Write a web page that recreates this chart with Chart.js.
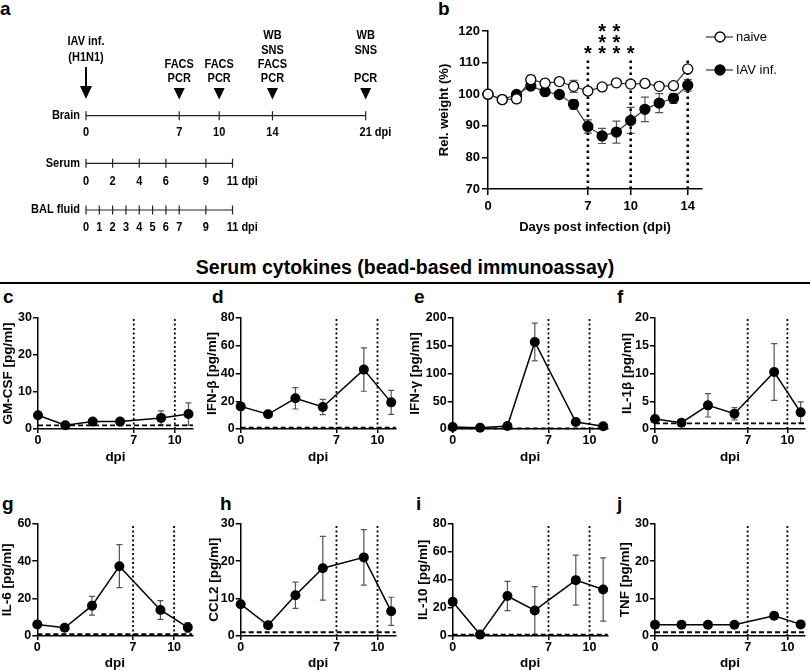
<!DOCTYPE html>
<html>
<head>
<meta charset="utf-8">
<script src="https://cdn.jsdelivr.net/npm/chart.js@4.4.1/dist/chart.umd.min.js"></script>
<style>
html, body { margin: 0; padding: 0; background: #fff; }
#fig { position: relative; width: 810px; height: 671px; overflow: hidden; font-family: "Liberation Sans", Arial, sans-serif; color: #000; }
#fig canvas { position: absolute; }
.lbl { position: absolute; font-weight: bold; font-size: 19px; line-height: 19px; }
#title { position: absolute; left: 0; width: 810px; top: 258px; text-align: center; font-weight: bold; font-size: 19.5px; line-height: 19.5px; }
#rule { position: absolute; left: 0; top: 282px; width: 810px; height: 2px; background: #000; }
</style>
</head>
<body>
<div id="fig">
  <div class="lbl" style="left:0px;top:-1px">a</div>
  <div class="lbl" style="left:438px;top:-1px">b</div>
  <div id="title">Serum cytokines (bead-based immunoassay)</div>
  <div id="rule"></div>
  <div class="lbl" style="left:3px;top:287px">c</div>
  <div class="lbl" style="left:212px;top:287px">d</div>
  <div class="lbl" style="left:414px;top:287px">e</div>
  <div class="lbl" style="left:617px;top:287px">f</div>
  <div class="lbl" style="left:2px;top:494px">g</div>
  <div class="lbl" style="left:220px;top:494px">h</div>
  <div class="lbl" style="left:416px;top:494px">i</div>
  <div class="lbl" style="left:617px;top:494px">j</div>
</div>
<script>
// panel a: sampling schedule (dpi)
const brainDays = [0, 7, 10, 14, 21];
const brainAssays = [
  [],
  ['', '', 'FACS', 'PCR'],
  ['', '', 'FACS', 'PCR'],
  ['WB', 'SNS', 'FACS', 'PCR'],
  ['WB', 'SNS', '', 'PCR']
];
const infectionLabel = ['IAV inf.', '(H1N1)'];
const serumDays = [0, 2, 4, 6, 9, 11];
const balDays = [0, 1, 2, 3, 4, 5, 6, 7, 9, 11];

// panel b: relative body weight
const weightDays = [0, 1, 2, 3, 4, 5, 6, 7, 8, 9, 10, 11, 12, 13, 14];
const naiveWeight = [100, 98.3, 98.5, 104.6, 103.5, 104, 102.5, 101, 102.3, 103.6, 103.2, 103.4, 102.5, 102.7, 108];
const naiveSem = [0, 0.4, 0.5, 1.4, 1.3, 1.0, 1.9, 0.8, 0.5, 0.5, 0.6, 0.5, 0.5, 0.6, 1.0];
const iavWeight = [100, 98.3, 99.9, 102.6, 100.8, 99.9, 96.8, 89.8, 86.8, 88, 91.7, 95.2, 97.2, 98.7, 102.8];
const iavSem = [0, 0.4, 0.6, 0.8, 0.6, 0.5, 1.5, 2.1, 2.4, 3.5, 4.1, 3.9, 3.0, 1.6, 1.8];
const weightTicksX = [0, 7, 10, 14];
const markDaysB = [7, 10, 14];
const starDays = [7, 8, 9, 10];
const starCounts = [1, 3, 3, 1];

// panels c-j: serum cytokines [pg/ml], mean and SEM
const cytoDays = [0, 2, 4, 6, 9, 11];
const cytoTicksX = [0, 7, 10];
const markDays = [7, 10];
const detLimit = 1;
const gmcsf = [3.7, 1.0, 2.0, 2.0, 3.0, 4.05];
const gmcsfSem = [0, 0, 0, 0, 1.9, 3.0];
const ifnb = [16.3, 10.6, 22.1, 15.9, 42.8, 19.2];
const ifnbSem = [0, 0, 7.7, 5.5, 15.6, 8.7];
const ifng = [3.6, 2.4, 5.4, 156.8, 12.6, 4.8];
const ifngSem = [0, 0, 0, 34, 0, 0];
const il1b = [1.8, 1.14, 4.26, 2.76, 10.27, 3.0];
const il1bSem = [0, 0, 2.1, 1.1, 5.1, 1.9];
const il6 = [6.2, 4.4, 16.2, 37.3, 13.9, 4.6];
const il6Sem = [0, 0, 5, 11.5, 5, 2.5];
const ccl2 = [8.5, 2.86, 10.9, 18.1, 21.0, 6.6];
const ccl2Sem = [0, 0, 3.5, 8.5, 7.4, 3.75];
const il10 = [24.4, 1.0, 28.5, 18.2, 39.8, 33.1];
const il10Sem = [0, 0, 10.4, 17, 17.8, 22.5];
const tnf = [3.0, 3.0, 3.0, 3.0, 5.4, 3.1];
const tnfSem = [0, 0, 0, 0, 0.8, 0];

const FONT = '"Liberation Sans", Arial, sans-serif';
Chart.defaults.font.family = FONT;
Chart.defaults.color = '#000';

const fig = document.getElementById('fig');
function mkCanvas(left, top, w, h) {
  const c = document.createElement('canvas');
  c.width = w; c.height = h;
  c.style.left = left + 'px'; c.style.top = top + 'px';
  c.style.width = w + 'px'; c.style.height = h + 'px';
  fig.appendChild(c);
  return c;
}

// error bars drawn under the lines and points
const errorBars = {
  id: 'errorBars',
  beforeDatasetsDraw(chart) {
    const {ctx, scales: {x, y}} = chart;
    ctx.save();
    chart.data.datasets.forEach(ds => {
      if (!ds.errors) return;
      ctx.strokeStyle = '#555';
      ctx.lineWidth = 1.2;
      const w = ds.capHalf || 3;
      ds.data.forEach((p, i) => {
        const e = ds.errors[i];
        if (!e) return;
        const px = x.getPixelForValue(p.x);
        const t = y.getPixelForValue(p.y + e);
        const b = y.getPixelForValue(p.y - e);
        ctx.beginPath();
        ctx.moveTo(px, t); ctx.lineTo(px, b);
        ctx.moveTo(px - w, t); ctx.lineTo(px + w, t);
        ctx.moveTo(px - w, b); ctx.lineTo(px + w, b);
        ctx.stroke();
      });
    });
    ctx.restore();
  }
};

function axis(o) {
  return {
    type: 'linear', min: o.min, max: o.max,
    grid: { drawOnChartArea: false, tickLength: o.tl, color: '#000', lineWidth: 1.5 },
    border: { color: '#000', width: 1.5 },
    ticks: { color: '#000', font: { size: o.fs, weight: 'bold' }, padding: o.pad, stepSize: o.step,
             autoSkip: false, maxRotation: 0, callback: v => String(v) },
    title: { display: true, text: o.title, color: '#000', font: { size: o.tfs, weight: 'bold' },
             padding: { top: o.tpt || 0, bottom: o.tpb || 0 } },
    afterBuildTicks: o.list ? (s => { s.ticks = o.list.map(v => ({ value: v })); }) : undefined,
    afterFit: s => { if (o.width) s.width = o.width; if (o.height) s.height = o.height; }
  };
}

// ---------- panel a ----------
const timeline = {
  id: 'timeline',
  afterDraw(chart) {
    const ctx = chart.ctx;
    const xs = chart.scales.x;
    const px = d => xs.getPixelForValue(d);
    const txt = (s, x, y, align) => {
      ctx.save();
      ctx.translate(x, y);
      ctx.scale(0.88, 1);
      ctx.textAlign = align;
      ctx.textBaseline = 'middle';
      ctx.fillText(s, 0, 0);
      ctx.restore();
    };
    ctx.save();
    ctx.fillStyle = '#000';
    ctx.strokeStyle = '#222';
    ctx.font = 'bold 12.5px ' + FONT;

    const rows = [
      { name: 'Brain', days: brainDays, y: 115.7, ly: 132.5 },
      { name: 'Serum', days: serumDays, y: 163.3, ly: 182 },
      { name: 'BAL fluid', days: balDays, y: 210, ly: 228 }
    ];
    rows.forEach(r => {
      ctx.lineWidth = 1.2;
      ctx.beginPath();
      ctx.moveTo(px(r.days[0]), r.y);
      ctx.lineTo(px(r.days[r.days.length - 1]), r.y);
      r.days.forEach(d => { ctx.moveTo(px(d), r.y - 4.5); ctx.lineTo(px(d), r.y + 4.5); });
      ctx.stroke();
      txt(r.name, px(0) - 6, r.y, 'right');
      r.days.forEach((d, i) => {
        if (i < r.days.length - 1) {
          txt(String(d), px(d), r.ly, 'center');
        } else {
          const w = ctx.measureText(String(d)).width * 0.88;
          txt(d + ' dpi', px(d) - w / 2, r.ly, 'left');
        }
      });
    });

    // infection arrow at day 0
    const x0 = px(brainDays[0]);
    txt(infectionLabel[0], x0, 42, 'center');
    txt(infectionLabel[1], x0, 58, 'center');
    ctx.fillRect(x0 - 1, 67, 2, 21);
    ctx.beginPath();
    ctx.moveTo(x0 - 6, 86); ctx.lineTo(x0 + 6, 86); ctx.lineTo(x0, 99); ctx.closePath();
    ctx.fill();

    // brain sampling points
    const assayRows = [36, 50.3, 64.6, 79];
    brainDays.forEach((d, i) => {
      if (i === 0) return;
      const x = px(d);
      brainAssays[i].forEach((s, k) => { if (s) txt(s, x, assayRows[k], 'center'); });
      ctx.beginPath();
      ctx.moveTo(x - 5.5, 88); ctx.lineTo(x + 5.5, 88); ctx.lineTo(x, 99.5); ctx.closePath();
      ctx.fill();
    });
    ctx.restore();
  }
};

new Chart(mkCanvas(0, 0, 400, 245), {
  type: 'scatter',
  data: { datasets: [] },
  options: {
    responsive: false, animation: false, devicePixelRatio: 1,
    layout: { padding: { left: 86, right: 34.3, top: 0, bottom: 0 } },
    plugins: { legend: { display: false }, tooltip: { enabled: false } },
    scales: {
      x: { type: 'linear', min: 0, max: 21, display: false },
      y: { type: 'linear', min: 0, max: 1, display: false }
    }
  },
  plugins: [timeline]
});

// ---------- panel b ----------
const stars = {
  id: 'stars',
  afterDatasetsDraw(chart) {
    const {ctx, chartArea, scales: {x}} = chart;
    ctx.save();
    ctx.fillStyle = '#000';
    ctx.font = 'bold 20px ' + FONT;
    ctx.textAlign = 'center';
    ctx.textBaseline = 'alphabetic';
    const m = ctx.measureText('*');
    const shift = (m.actualBoundingBoxAscent - m.actualBoundingBoxDescent) / 2;
    starDays.forEach((d, i) => {
      for (let k = 0; k < starCounts[i]; k++) {
        const cy = chartArea.top + 19 - k * 11;
        ctx.fillText('*', x.getPixelForValue(d), cy + shift);
      }
    });
    ctx.restore();
  }
};

const legendB = {
  id: 'legendB',
  afterDraw(chart) {
    const {ctx, chartArea} = chart;
    ctx.save();
    chart.data.datasets.filter(d => d.legendLabel).forEach((d, i) => {
      const y = chartArea.top + 6 + i * 33;
      const x0 = chartArea.right + 4;
      ctx.strokeStyle = d.borderColor;
      ctx.lineWidth = d.borderWidth;
      ctx.beginPath(); ctx.moveTo(x0, y); ctx.lineTo(x0 + 27, y); ctx.stroke();
      ctx.beginPath(); ctx.arc(x0 + 14, y, 5, 0, Math.PI * 2);
      ctx.fillStyle = d.pointBackgroundColor; ctx.fill();
      ctx.strokeStyle = '#000'; ctx.lineWidth = 1.3; ctx.stroke();
      ctx.fillStyle = '#000';
      ctx.font = '13px ' + FONT;
      ctx.textAlign = 'left'; ctx.textBaseline = 'middle';
      ctx.fillText(d.legendLabel, x0 + 30, y);
    });
    ctx.restore();
  }
};

new Chart(mkCanvas(437, 0, 373, 236), {
  type: 'scatter',
  data: {
    datasets: [
      { legendLabel: 'naive', data: weightDays.map((d, i) => ({ x: d, y: naiveWeight[i] })), errors: naiveSem, capHalf: 4,
        showLine: true, borderColor: '#333', borderWidth: 1.2, pointRadius: 5, pointBackgroundColor: '#fff',
        pointBorderColor: '#000', pointBorderWidth: 1.3, clip: false },
      { legendLabel: 'IAV inf.', data: weightDays.map((d, i) => ({ x: d, y: iavWeight[i] })), errors: iavSem, capHalf: 4,
        showLine: true, borderColor: '#333', borderWidth: 1.2, pointRadius: 5, pointBackgroundColor: '#000',
        pointBorderColor: '#000', pointBorderWidth: 1.3, clip: false },
      ...markDaysB.map(d => ({ data: [{ x: d, y: 70 }, { x: d, y: 111 }], showLine: true, borderColor: '#000',
        borderWidth: 2.6, borderDash: [2.6, 3.4], pointRadius: 0, clip: false }))
    ]
  },
  options: {
    responsive: false, animation: false, devicePixelRatio: 1,
    layout: { padding: { top: 31, right: 108, left: 0, bottom: 0 } },
    plugins: { legend: { display: false }, tooltip: { enabled: false } },
    scales: {
      x: axis({ min: 0, max: 15, list: weightTicksX, tl: 6, pad: 4, fs: 13, title: 'Days post infection (dpi)', tfs: 13, height: 47, tpb: 1 }),
      y: axis({ min: 70, max: 120, step: 10, tl: 6, pad: 2, fs: 13, title: 'Rel. weight (%)', tfs: 13, width: 51 })
    }
  },
  plugins: [errorBars, stars, legendB]
});

// ---------- panels c-j ----------
const AREA_W = 155;
const X_MAX = 11.33;
function cytoPanel(p) {
  const lh = 13.5 * 1.2;
  const left = Math.floor(p.titleX - lh / 2);
  const top = Math.floor(p.areaT - 20);
  const bottom = Math.ceil(p.dpiY + lh / 2);
  const areaR = p.areaL + AREA_W;
  const right = Math.min(810, Math.ceil(areaR + 10));
  new Chart(mkCanvas(left, top, right - left, bottom - top), {
    type: 'scatter',
    data: {
      datasets: [
        { data: cytoDays.map((d, i) => ({ x: d, y: p.values[i] })), errors: p.sem, capHalf: 3,
          showLine: true, borderColor: '#000', borderWidth: 1.5, pointRadius: 5,
          pointBackgroundColor: '#000', pointBorderWidth: 0, clip: false },
        ...markDays.map(d => ({ data: [{ x: d, y: 0 }, { x: d, y: p.yMax }], showLine: true, borderColor: '#000',
          borderWidth: 1.8, borderDash: [2, 2.5], pointRadius: 0, clip: false })),
        { data: [{ x: 0, y: detLimit }, { x: X_MAX, y: detLimit }], showLine: true, borderColor: '#000',
          borderWidth: 1.8, borderDash: [5, 3], pointRadius: 0, clip: false }
      ]
    },
    options: {
      responsive: false, animation: false, devicePixelRatio: 1,
      layout: { padding: { top: p.areaT - top, right: right - areaR, left: 0, bottom: 0 } },
      plugins: { legend: { display: false }, tooltip: { enabled: false } },
      scales: {
        x: axis({ min: 0, max: X_MAX, list: cytoTicksX, tl: 4, pad: 0, fs: 12.5, title: 'dpi', tfs: 13.5,
                  height: bottom - p.areaB, tpb: bottom - lh / 2 - p.dpiY }),
        y: axis({ min: 0, max: p.yMax, step: p.step, tl: 5, pad: 1, fs: 12.5, title: p.yTitle, tfs: 13.5,
                  width: p.areaL - left, tpt: (p.titleX - lh / 2) - left })
      }
    },
    plugins: [errorBars]
  });
}

const row1 = { areaT: 318, areaB: 429, dpiY: 457.5 };
const row2 = { areaT: 523.7, areaB: 636, dpiY: 663.5 };
cytoPanel({ ...row1, titleX: 8, areaL: 38, yMax: 30, step: 10, yTitle: 'GM-CSF [pg/ml]', values: gmcsf, sem: gmcsfSem });
cytoPanel({ ...row1, titleX: 212, areaL: 240.7, yMax: 80, step: 20, yTitle: 'IFN-β [pg/ml]', values: ifnb, sem: ifnbSem });
cytoPanel({ ...row1, titleX: 415, areaL: 452.7, yMax: 200, step: 50, yTitle: 'IFN-γ [pg/ml]', values: ifng, sem: ifngSem });
cytoPanel({ ...row1, titleX: 627, areaL: 655, yMax: 20, step: 5, yTitle: 'IL-1β [pg/ml]', values: il1b, sem: il1bSem });
cytoPanel({ ...row2, titleX: 7.5, areaL: 37.3, yMax: 60, step: 20, yTitle: 'IL-6 [pg/ml]', values: il6, sem: il6Sem });
cytoPanel({ ...row2, titleX: 214, areaL: 240.7, yMax: 30, step: 10, yTitle: 'CCL2 [pg/ml]', values: ccl2, sem: ccl2Sem });
cytoPanel({ ...row2, titleX: 423, areaL: 452.7, yMax: 80, step: 20, yTitle: 'IL-10 [pg/ml]', values: il10, sem: il10Sem });
cytoPanel({ ...row2, titleX: 625, areaL: 655, yMax: 30, step: 10, yTitle: 'TNF [pg/ml]', values: tnf, sem: tnfSem });
</script>
</body>
</html>
